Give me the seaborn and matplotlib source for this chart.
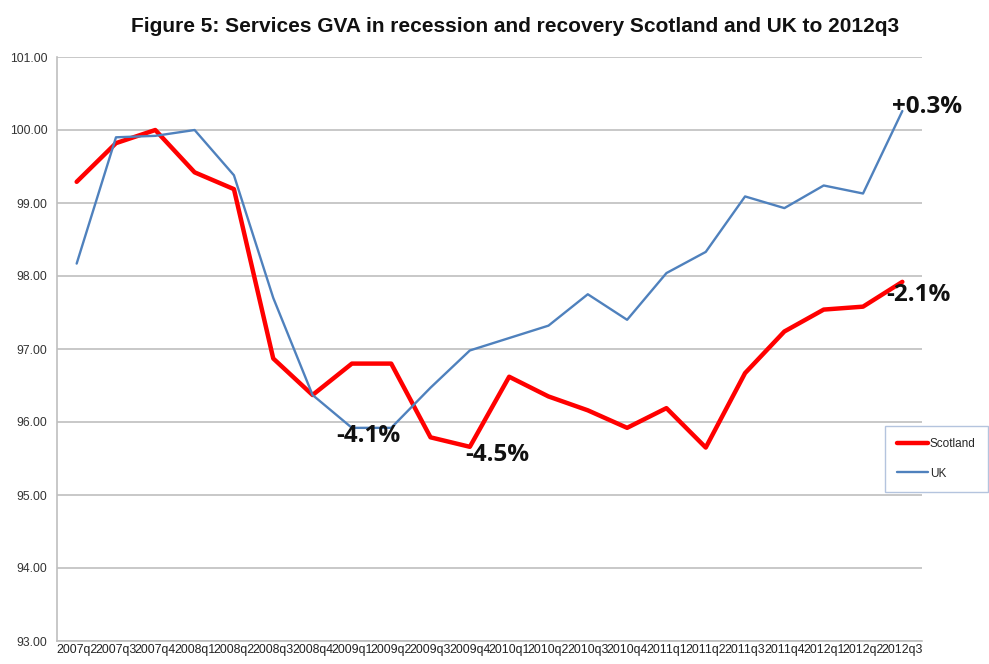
import matplotlib
matplotlib.use("Agg")
import matplotlib.pyplot as plt
import matplotlib.ticker as mticker
import numpy as np
import pandas as pd
import seaborn as sns

# Quarterly services GVA index (peak = 100)
quarters = ["2007q2", "2007q3", "2007q4", "2008q1", "2008q2", "2008q3", "2008q4",
            "2009q1", "2009q2", "2009q3", "2009q4", "2010q1", "2010q2", "2010q3",
            "2010q4", "2011q1", "2011q2", "2011q3", "2011q4", "2012q1", "2012q2",
            "2012q3"]
scotland = [99.29, 99.82, 100.00, 99.42, 99.19, 96.87, 96.37, 96.80, 96.80, 95.79,
            95.66, 96.62, 96.35, 96.16, 95.92, 96.19, 95.65, 96.67, 97.24, 97.54,
            97.58, 97.92]
uk = [98.17, 99.90, 99.92, 100.00, 99.38, 97.70, 96.37, 95.92, 95.92, 96.47,
      96.98, 97.15, 97.32, 97.75, 97.40, 98.04, 98.33, 99.09, 98.93, 99.24,
      99.13, 100.26]
series_names = ["Scotland", "UK"]
series_colors = ["#FF0000", "#4F81BD"]
y_ticks = [93, 94, 95, 96, 97, 98, 99, 100, 101]

# Callouts: (series, quarter, text, pixel offset)
callouts = [
    ("UK", "2012q3", "+0.3%", (-10, 4)),
    ("Scotland", "2012q3", "-2.1%", (-16, -13)),
    ("UK", "2009q1", "-4.1%", (-16, -8)),
    ("Scotland", "2009q4", "-4.5%", (-5, -8)),
]

df = pd.DataFrame({
    "quarter": quarters * 2,
    "pos": list(range(len(quarters))) * 2,
    "series": ["Scotland"] * len(quarters) + ["UK"] * len(quarters),
    "value": scotland + uk,
})

sns.set_theme(style="white")
plt.rcParams["font.family"] = ["Liberation Sans", "DejaVu Sans"]

fig = plt.figure(figsize=(9.89, 6.64), dpi=100)
ax = fig.add_axes([57 / 989, 1 - 641 / 664, (922 - 57) / 989, (641 - 57) / 664])

sns.lineplot(data=df, x="pos", y="value", hue="series", hue_order=series_names,
             palette=series_colors, size="series", sizes={"Scotland": 3.2, "UK": 1.7},
             size_order=series_names, ax=ax, legend=True, sort=False)

ax.set_xlim(-0.5, len(quarters) - 0.5)
ax.set_ylim(y_ticks[0], y_ticks[-1])
ax.set_yticks(y_ticks)
ax.yaxis.set_major_formatter(mticker.FormatStrFormatter("%.2f"))
ax.set_xticks(range(len(quarters)))
ax.set_xticklabels(quarters)
ax.set_xticks(np.arange(-0.5, len(quarters), 1.0), minor=True)
ax.set_xlabel("")
ax.set_ylabel("")

ax.grid(axis="y", color="#c8c8c8", linewidth=1.4)
ax.grid(axis="x", visible=False)
ax.set_axisbelow(True)
for side in ["top", "right"]:
    ax.spines[side].set_visible(False)
for side in ["left", "bottom"]:
    ax.spines[side].set_color("#bfbfbf")
    ax.spines[side].set_linewidth(1.2)

ax.tick_params(axis="x", which="major", length=0, pad=2, labelsize=8.9, labelcolor="#222222")
ax.tick_params(axis="x", which="minor", length=5, width=1.2, color="#bfbfbf", direction="out")
ax.tick_params(axis="y", length=4, width=1.2, color="#bfbfbf", direction="out", pad=3,
               labelsize=8.7, labelcolor="#333333")

values = {"Scotland": scotland, "UK": uk}
for name, q, text, offset in callouts:
    i = quarters.index(q)
    ax.annotate(text, xy=(i, values[name][i]), xytext=offset, textcoords="offset pixels",
                ha="left", va="center", fontsize=17.5, fontweight="bold", color="#111111",
                family=["Open Sans", "DejaVu Sans"])

handles, labels = ax.get_legend_handles_labels()
ax.legend(handles=handles, labels=labels, loc="upper left",
          bbox_to_anchor=(885 / 989, 1 - 426 / 664), bbox_transform=fig.transFigure,
          frameon=True, fancybox=False, edgecolor="#b4c4de", framealpha=1,
          fontsize=8.5, handlelength=2.6, handletextpad=0.15, labelspacing=1.45,
          borderpad=1.05, borderaxespad=0)

fig.text(515 / 989, 1 - 27 / 664,
         "Figure 5: Services GVA in recession and recovery Scotland and UK to 2012q3",
         ha="center", va="center", fontsize=15, fontweight="bold",
         family=["Liberation Sans", "DejaVu Sans"], color="#111111")

fig.savefig("out.png", dpi=100)
